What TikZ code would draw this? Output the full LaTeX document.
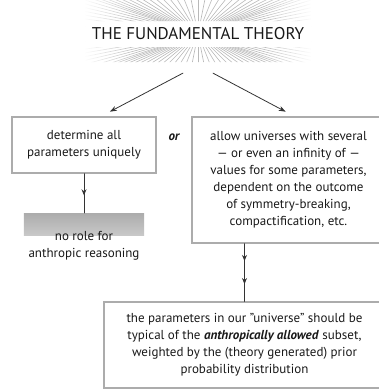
\documentclass[tikz,border=0pt]{standalone}
\usepackage{fontspec}
\setmainfont{PT Sans}
\usetikzlibrary{arrows.meta,decorations.markings,fadings}
\tikzfading[name=fadeleftedge,left color=transparent!0,right color=transparent!100]
\tikzfading[name=faderightedge,left color=transparent!100,right color=transparent!0]

\begin{document}
\begin{tikzpicture}[x=1bp,y=-1bp,>={Stealth[length=7bp,width=5bp]},font=\fontsize{13bp}{17bp}\selectfont,line cap=round,
  box/.style={draw=gray!65,line width=1.3bp,align=center,text=black!90,inner sep=0pt},
  ray/.style={gray!55,line width=0.6bp},
  arr/.style={->,black!80,line width=0.8bp,shorten <=17bp,shorten >=10bp},
  onemid/.style={black!80,line width=0.8bp,postaction={decorate},
    decoration={markings,mark=at position 0.55 with {\arrow{Stealth[length=6bp,width=5bp]}}}},
  twomid/.style={black!80,line width=0.8bp,postaction={decorate},
    decoration={markings,mark=at position 0.3 with {\arrow{Stealth[length=6bp,width=5bp]}},
      mark=at position 0.7 with {\arrow{Stealth[length=6bp,width=5bp]}}}}]
\useasboundingbox (0,0) rectangle (379,391);
\begin{scope}[even odd rule]
\clip (85,0) rectangle (311,62) (85,21) rectangle (311,47);
\foreach \s in {1,-1} {
  \foreach \x in {-120,-112,...,120} \draw[ray] (198,34) -- ++(\x,-40*\s);
  \foreach \y in {4,8,...,36} {
    \draw[ray] (198,34) -- ++(-120,-\y*\s);
    \draw[ray] (198,34) -- ++(120,-\y*\s);
  }
}
\end{scope}
\fill[white,path fading=fadeleftedge] (84,0) rectangle (135,63);
\fill[white,path fading=faderightedge] (261,0) rectangle (312,63);
\node[font=\fontsize{17bp}{19bp}\selectfont,text=black!90,minimum height=62bp] (theory) at (198,34) {THE FUNDAMENTAL THEORY};
\node[box,minimum width=144bp,minimum height=56bp] (unique) at (84,145) {determine all\\parameters uniquely};
\node[text=black!90] (or) at (174,137) {\bfseries\itshape or};
\node[box,minimum width=193bp,minimum height=126bp] (multi) at (288.5,180) {allow universes with several\\--- or even an infinity of ---\\values for some parameters,\\dependent on the outcome\\of symmetry-breaking,\\compactification, etc.};
\node[anchor=north,align=center,text=black!90,minimum width=120bp,inner xsep=0pt,inner ysep=18bp,fill=white,
  path picture={\shade[top color=gray!65,bottom color=white] (path picture bounding box.north west) rectangle ([yshift=-22bp]path picture bounding box.north east);}]
  (norole) at (84,213) {no role for\\anthropic reasoning};
\node[box,minimum width=281bp,minimum height=86bp] (typical) at (244.5,345) {the parameters in our "universe" should be\\typical of the \textbf{\textit{anthropically allowed}} subset,\\weighted by the (theory generated) prior\\probability distribution};
\draw[arr] (theory.south) -- ([xshift=17bp]unique.north);
\draw[arr] (theory.south) -- ([xshift=6bp]multi.north);
\draw[onemid] (unique.south) -- (norole.north);
\draw[twomid] (typical.north |- multi.south) -- (typical.north);
\end{tikzpicture}
\end{document}
